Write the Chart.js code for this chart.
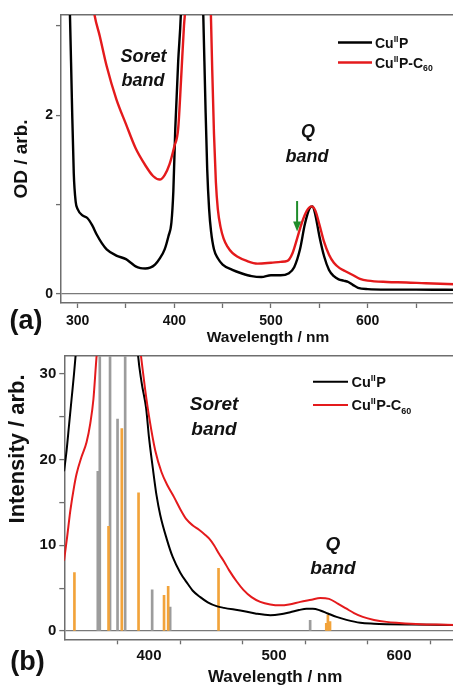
<!DOCTYPE html>
<html><head><meta charset="utf-8">
<script src="https://cdn.jsdelivr.net/npm/chart.js@4.4.1/dist/chart.umd.min.js"></script>
<style>
html,body{margin:0;padding:0;width:453px;height:688px;overflow:hidden;background:#fff;}
#wrap{position:relative;width:453px;height:688px;overflow:hidden;}
canvas{position:absolute;left:0;}
#c1{top:0;} #c2{top:344px;}
</style></head><body><div id="wrap"><canvas id="c1" width="475" height="352"></canvas><canvas id="c2" width="486" height="344"></canvas></div>
<script>
// ---------- (a) absorption ----------
const absNmCuP = [283,288,292,294,296,298,300,305,310,315,320,325,330,340,350,355,360,365,370,375,380,385,390,394,397,399,401,404,407,412,418,424,428,430,432,434,436,438,441,445,450,460,470,480,490,500,510,518,524,530,535,540,543,546,550,555,560,565,570,575,580,585,590,600,620,650,680,711];
const absODCuP = [5.5,4.2,3.15,2.2,1.35,1.03,0.95,0.88,0.85,0.77,0.66,0.57,0.5,0.43,0.39,0.35,0.31,0.29,0.285,0.295,0.33,0.4,0.5,0.65,0.8,1.15,1.85,2.6,3.2,5.5,8,6,3.8,3.1,2.2,1.4,0.95,0.7,0.5,0.4,0.33,0.27,0.23,0.2,0.19,0.21,0.21,0.23,0.3,0.5,0.78,0.96,0.98,0.88,0.65,0.42,0.27,0.2,0.165,0.15,0.135,0.1,0.07,0.055,0.05,0.05,0.048,0.047];
const absNmCuPC60 = [283,295,305,312,317,323,330,340,350,360,370,378,385,390,395,400,404,407,410,412,418,425,432,437,439,441,443,445,448,451,455,460,465,475,486,500,510,517,522,527,532,537,542,546,550,555,560,565,571,578,585,592,600,620,640,660,690,711];
const absODCuPC60 = [7,5.5,4.3,3.6,3.15,2.88,2.55,2.18,1.9,1.63,1.44,1.32,1.28,1.33,1.45,1.65,1.85,2.4,3.0,3.3,5.5,7,5.5,3.5,2.6,1.8,1.25,0.95,0.74,0.62,0.53,0.46,0.42,0.37,0.34,0.35,0.36,0.37,0.45,0.62,0.8,0.93,0.98,0.93,0.78,0.58,0.44,0.35,0.29,0.25,0.21,0.17,0.15,0.135,0.13,0.12,0.11,0.105];
const absXTickLabels = [300,400,500,600];
const absYTickLabels = [0,2];
const arrowAt = {nm:527, from:1.04, to:0.70};

// ---------- (b) emission / calculated sticks ----------
const emNmCuP = [332,334,336,338,340,342,345,352,365,375,383,388,391,394,397.7,400,403,406,409,414,419,425,430,435,441,447,454,460,473,485,497,505,513,520,526,531,537,543,550,558,569,580,590,610,640,670];
const emICuP = [18.6,21,24,27,30,33.5,40,60,100,90,60,40,32.5,29,25.9,22.5,19,15.8,13.5,10.8,8.6,6.8,5.7,4.7,3.95,3.35,2.9,2.7,2.4,2.05,1.85,1.95,2.2,2.45,2.6,2.6,2.4,2.05,1.65,1.3,0.96,0.85,0.8,0.75,0.7,0.68];
const emNmCuPC60 = [332,334.5,337,340,342,346,350,353,355.5,357.5,360,368,378,386,390,393.6,397,400,405,410,415,420,425,430,435,440,445,448,452,456,460,464,470,475.5,482,489,497,505,512,521,530,537,544,551,558,564,571,580,590,600,617,630,645,670];
const emICuPC60 = [8.2,11,14,16.8,18.3,20.3,22,24.2,27,31,36,55,60,45,36,32,28,25,21,18.5,16.9,15.6,14.2,13,12.3,11.8,11.2,10.8,10,9,8.1,7.1,5.8,4.8,3.95,3.4,3.1,3.0,3.1,3.4,3.65,3.85,3.75,3.2,2.6,2.1,1.65,1.3,1.07,0.95,0.8,0.75,0.72,0.7];
const stickNmCuP = [359,360.6,368.8,374.8,380.9,402.5,416.9,528.9];
const stickICuP = [18.6,60,60,24.7,60,4.8,2.8,1.25];
const stickNmCuPC60 = [340.3,367.6,378.2,391.6,412,415.3,455.6,541.8,543.1,544.8];
const stickICuPC60 = [6.8,12.2,23.6,16.1,4.15,5.2,7.3,0.9,1.85,1.1];
const emXTickLabels = [400,500,600];
const emYTickLabels = [0,10,20,30];

const seriesNames = ['CuIIP','CuIIP-C60'];

const FONT = '"Liberation Sans", Arial, sans-serif';
const FRAME = '#6e6e6e';
const RED = '#e41a1c';
const GRAY = '#9c9c9c';
const ORANGE = '#f2a33a';

function zip(xs, ys){ return xs.map((x,i)=>({x:x, y:ys[i]})); }

function drawRich(ctx, parts, x, y, size){
  let cx = x;
  ctx.textAlign = 'left'; ctx.textBaseline = 'alphabetic';
  parts.forEach(p => {
    const small = p.sup || p.sub;
    const s = small ? size*0.62 : size;
    ctx.font = 'bold ' + s + 'px ' + FONT;
    const dy = p.sup ? -size*0.38 : (p.sub ? size*0.28 : 0);
    ctx.fillText(p.t, cx, y+dy);
    cx += ctx.measureText(p.t).width + (small ? 0.5 : 0);
  });
}

const overlayPlugin = {
  id: 'overlay',
  afterDraw(chart, args, o){
    const ctx = chart.ctx;
    ctx.save();
    o.legend.forEach(it => {
      ctx.strokeStyle = it.color; ctx.lineWidth = it.lw;
      ctx.beginPath(); ctx.moveTo(it.x0, it.y); ctx.lineTo(it.x1, it.y); ctx.stroke();
      ctx.fillStyle = '#111';
      drawRich(ctx, it.parts, it.tx, it.ty, o.legendSize);
    });
    ctx.fillStyle = '#111'; ctx.textAlign = 'center'; ctx.textBaseline = 'middle';
    o.notes.forEach(n => { ctx.font = 'italic bold ' + n.size + 'px ' + FONT; ctx.fillText(n.t, n.x, n.y); });
    ctx.font = 'bold ' + o.panel.size + 'px ' + FONT;
    ctx.fillText(o.panel.t, o.panel.x, o.panel.y);
    if (o.arrow){
      const px = chart.scales.x.getPixelForValue(o.arrow.nm);
      const y0 = chart.scales.y.getPixelForValue(o.arrow.from);
      const y1 = chart.scales.y.getPixelForValue(o.arrow.to);
      ctx.strokeStyle = '#1e8c2a'; ctx.fillStyle = '#1e8c2a'; ctx.lineWidth = 2;
      ctx.beginPath(); ctx.moveTo(px, y0); ctx.lineTo(px, y1-8); ctx.stroke();
      ctx.beginPath(); ctx.moveTo(px-4, y1-10); ctx.lineTo(px+4, y1-10); ctx.lineTo(px, y1); ctx.closePath(); ctx.fill();
    }
    ctx.restore();
  }
};

function axisX(min, max, labels, fontSize, titleSize, height, tickPad, titlePad){
  return {
    type:'linear', position:'bottom', min:min, max:max, offset:false,
    afterFit: s => { s.height = height; },
    ticks:{ stepSize:50, includeBounds:false, autoSkip:false, maxRotation:0, padding:tickPad,
      color:'#111', font:{family:FONT, size:fontSize, weight:'bold'},
      callback: v => labels.includes(v) ? String(v) : '' },
    grid:{ drawOnChartArea:false, drawTicks:true, tickLength:5, tickColor:FRAME, tickWidth:1.3, color:FRAME },
    border:{ display:true, color:FRAME, width:1.5 },
    title:{ display:true, text:'Wavelength / nm', color:'#111', padding:{top:0,bottom:titlePad},
      font:{family:FONT, size:titleSize, weight:'bold', lineHeight:1} }
  };
}
function axisTop(min, max){
  return { type:'linear', position:'top', min:min, max:max, offset:false,
    afterFit: s => { s.height = 0; },
    ticks:{display:false}, grid:{display:false, drawTicks:false},
    border:{ display:true, color:FRAME, width:1.5 } };
}
function axisY(min, max, step, labels, fontSize, width, titleText, titleSize, titlePad, align){
  return {
    type:'linear', position:'left', min:min, max:max,
    afterFit: s => { s.width = width; },
    ticks:{ stepSize:step, includeBounds:false, autoSkip:false, padding:3,
      color:'#111', font:{family:FONT, size:fontSize, weight:'bold'},
      callback: v => labels.includes(v) ? String(v) : '' },
    grid:{ drawOnChartArea:true, drawTicks:true, tickLength:5, tickColor:FRAME, tickWidth:1.3,
      lineWidth:1.2, color: c => (c.tick && c.tick.value === 0) ? '#7a7a7a' : 'rgba(0,0,0,0)' },
    border:{ display:true, color:FRAME, width:1.5 },
    title:{ display:true, text:titleText, align:align, color:'#111', padding:{top:titlePad,bottom:0},
      font:{family:FONT, size:titleSize, weight:'bold', lineHeight:1} }
  };
}

const legendParts = [
  [{t:'Cu'},{t:'II',sup:true},{t:'P'}],
  [{t:'Cu'},{t:'II',sup:true},{t:'P-C'},{t:'60',sub:true}]
];

new Chart(document.getElementById('c1'), {
  type:'line',
  data:{ datasets:[
    { label:seriesNames[0], data:zip(absNmCuP, absODCuP), borderColor:'#000', borderWidth:2.4, pointRadius:0, cubicInterpolationMode:'monotone', clip:0, order:1 },
    { label:seriesNames[1], data:zip(absNmCuPC60, absODCuPC60), borderColor:RED, borderWidth:2.4, pointRadius:0, cubicInterpolationMode:'monotone', clip:0, order:0 }
  ]},
  options:{
    responsive:false, animation:false, devicePixelRatio:1,
    layout:{ padding:{left:0, top:15, right:0, bottom:0}, autoPadding:false },
    plugins:{ legend:{display:false}, tooltip:{enabled:false},
      overlay:{
        legendSize:14,
        legend:[
          {color:'#000', lw:2.4, x0:338, x1:372, y:42.5, tx:375, ty:47.5, parts:legendParts[0]},
          {color:RED, lw:2.4, x0:338, x1:372, y:62.5, tx:375, ty:67.5, parts:legendParts[1]}
        ],
        notes:[
          {t:'Soret', x:143.5, y:57, size:18}, {t:'band', x:143, y:81, size:18},
          {t:'Q', x:308, y:132, size:18}, {t:'band', x:307, y:157, size:18}
        ],
        panel:{t:'(a)', x:26, y:322, size:27},
        arrow: arrowAt
      }
    },
    scales:{
      x: axisX(282.8, 711, absXTickLabels, 14, 15.5, 49, 5, 6.5),
      x2: axisTop(282.8, 711),
      y: axisY(-0.1, 3.12, 1, absYTickLabels, 14, 61, 'OD / arb.', 19, 12.5, 'center')
    }
  },
  plugins:[overlayPlugin]
});

new Chart(document.getElementById('c2'), {
  type:'line',
  data:{ datasets:[
    { label:seriesNames[0], data:zip(emNmCuP, emICuP), borderColor:'#000', borderWidth:2, pointRadius:0, cubicInterpolationMode:'monotone', clip:0, order:1 },
    { label:seriesNames[1], data:zip(emNmCuPC60, emICuPC60), borderColor:RED, borderWidth:2, pointRadius:0, cubicInterpolationMode:'monotone', clip:0, order:0 },
    { type:'bar', label:seriesNames[0]+' sticks', data:zip(stickNmCuP, stickICuP), backgroundColor:GRAY, barThickness:2, grouped:false, clip:0, order:3 },
    { type:'bar', label:seriesNames[1]+' sticks', data:zip(stickNmCuPC60, stickICuPC60), backgroundColor:ORANGE, barThickness:2, grouped:false, clip:0, order:2 }
  ]},
  options:{
    responsive:false, animation:false, devicePixelRatio:1,
    layout:{ padding:{left:0, top:9.3, right:0, bottom:0}, autoPadding:false },
    plugins:{ legend:{display:false}, tooltip:{enabled:false},
      overlay:{
        legendSize:14.5,
        legend:[
          {color:'#000', lw:2, x0:313, x1:348, y:37.7, tx:351.5, ty:42.5, parts:legendParts[0]},
          {color:RED, lw:2, x0:313, x1:348, y:61, tx:351.5, ty:66, parts:legendParts[1]}
        ],
        notes:[
          {t:'Soret', x:214, y:61, size:19}, {t:'band', x:214, y:86, size:19},
          {t:'Q', x:333, y:201, size:19}, {t:'band', x:333, y:225, size:19}
        ],
        panel:{t:'(b)', x:27.5, y:319, size:27}
      }
    },
    scales:{
      x: axisX(332.2, 669.6, emXTickLabels, 15, 17, 48.7, 3, 2.5),
      x2: axisTop(332.2, 669.6),
      y: axisY(-0.96, 32.04, 5, emYTickLabels, 15, 64.3, 'Intensity / arb.   ', 22, 7, 'end')
    }
  },
  plugins:[overlayPlugin]
});
</script></body></html>
